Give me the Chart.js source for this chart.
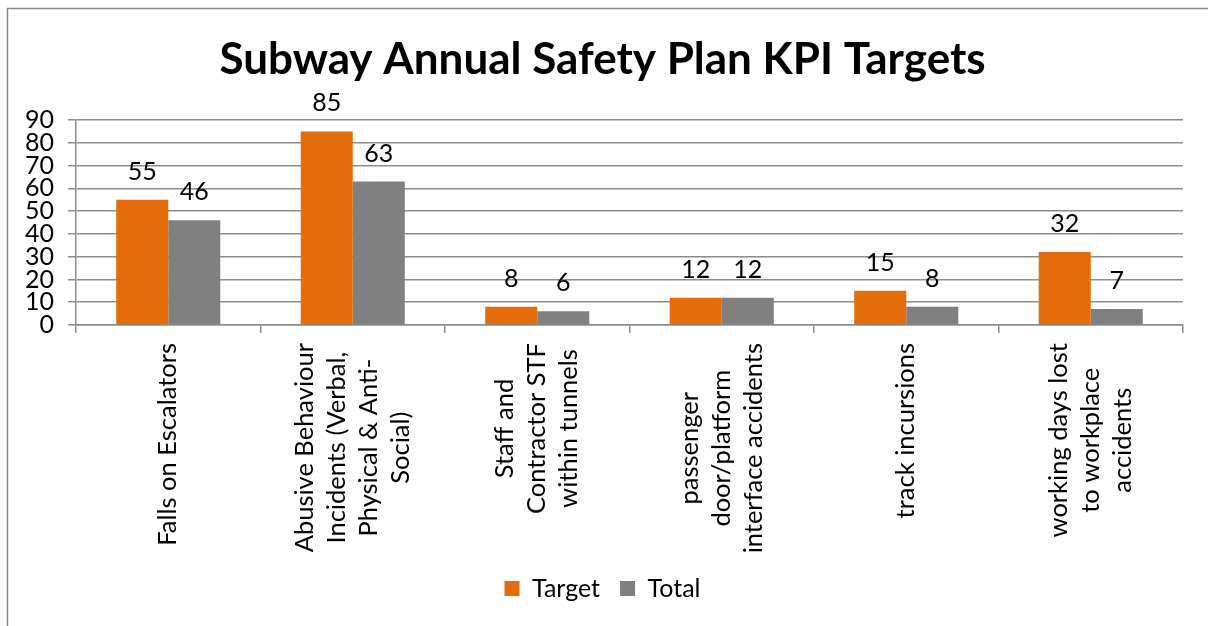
<!DOCTYPE html>
<html>
<head>
<meta charset="utf-8">
<script src="https://cdn.jsdelivr.net/npm/chart.js@4.4.1/dist/chart.umd.min.js"></script>
<style>
  html, body { margin: 0; padding: 0; background: #ffffff; }
  #wrap { position: relative; width: 1208px; height: 626px; }
</style>
</head>
<body>
<div id="wrap"><canvas id="chart" width="1208" height="626"></canvas></div>
<script>
  var CATEGORIES = [
    ["Falls on Escalators"],
    ["Abusive Behaviour", "Incidents (Verbal,", "Physical & Anti-", "Social)"],
    ["Staff and", "Contractor STF", "within tunnels"],
    ["passenger", "door/platform", "interface accidents"],
    ["track incursions"],
    ["working days lost", "to workplace", "accidents"]
  ];
  var TARGET = [55, 85, 8, 12, 15, 32];
  var TOTAL = [46, 63, 6, 12, 8, 7];
  var Y_TICKS = [0, 10, 20, 30, 40, 50, 60, 70, 80, 90];

  var FONT = "Lato, 'Liberation Sans', sans-serif";
  var GRID = "#8c8c8c";

  // frame line round the chart (only top and left edges are in view)
  var framePlugin = {
    id: "frame",
    beforeDraw: function (chart) {
      var ctx = chart.ctx;
      ctx.save();
      ctx.strokeStyle = "#8a8a8a";
      ctx.lineWidth = 1.5;
      ctx.strokeRect(7.5, 8.5, 1400, 800);
      ctx.restore();
    }
  };

  // rotated, centred multi-line category labels
  var categoryLabels = {
    id: "categoryLabels",
    afterDraw: function (chart) {
      var scale = chart.scales.x;
      var ctx = chart.ctx;
      var lineH = 32;
      ctx.save();
      ctx.font = "25.5px " + FONT;
      ctx.fillStyle = "#000000";
      ctx.textAlign = "center";
      ctx.textBaseline = "middle";
      CATEGORIES.forEach(function (lines, i) {
        var x = scale.getPixelForTick(i);
        var top = scale.top + 18;
        var maxW = 0;
        lines.forEach(function (l) { maxW = Math.max(maxW, ctx.measureText(l).width); });
        ctx.save();
        ctx.translate(x, top);
        ctx.rotate(-Math.PI / 2);
        lines.forEach(function (l, j) {
          ctx.fillText(l, -maxW / 2, (j - (lines.length - 1) / 2) * lineH);
        });
        ctx.restore();
      });
      ctx.restore();
    }
  };

  // value labels above the bars
  var valueLabels = {
    id: "valueLabels",
    afterDatasetsDraw: function (chart) {
      var ctx = chart.ctx;
      ctx.save();
      ctx.font = "25px " + FONT;
      ctx.fillStyle = "#000000";
      ctx.textAlign = "center";
      ctx.textBaseline = "alphabetic";
      chart.data.datasets.forEach(function (ds, d) {
        chart.getDatasetMeta(d).data.forEach(function (bar, i) {
          ctx.fillText(String(ds.data[i]), bar.x, bar.y - 20);
        });
      });
      ctx.restore();
    }
  };

  new Chart(document.getElementById("chart"), {
    type: "bar",
    data: {
      labels: CATEGORIES.map(function (c) { return c.join(" "); }),
      datasets: [{
        label: "Target",
        data: TARGET,
        backgroundColor: "#e46c0a",
        borderWidth: 0
      }, {
        label: "Total",
        data: TOTAL,
        backgroundColor: "#808080",
        borderWidth: 0
      }]
    },
    options: {
      responsive: false,
      animation: false,
      devicePixelRatio: 1,
      layout: { padding: { left: 22, right: 25, top: 0, bottom: 15 } },
      datasets: { bar: { categoryPercentage: 0.564, barPercentage: 1 } },
      plugins: {
        title: {
          display: true,
          text: "Subway Annual Safety Plan KPI Targets",
          color: "#000000",
          font: { family: FONT, size: 44, weight: "bold", lineHeight: 1.2 },
          padding: { top: 33.6, bottom: 33.6 }
        },
        legend: {
          position: "bottom",
          labels: {
            color: "#000000",
            font: { family: FONT, size: 25 },
            boxWidth: 15,
            boxHeight: 15,
            padding: 20
          }
        },
        tooltip: { enabled: false }
      },
      scales: {
        x: {
          grid: { display: true, drawOnChartArea: false, color: GRID, lineWidth: 1.5, tickLength: 8, offset: true },
          border: { color: GRID, width: 1.5 },
          ticks: { display: false },
          afterFit: function (scale) { scale.height = 231; }
        },
        y: {
          min: 0,
          max: 90,
          afterBuildTicks: function (scale) {
            scale.ticks = Y_TICKS.map(function (v) { return { value: v }; });
          },
          grid: { color: GRID, lineWidth: 1.5, tickLength: 8 },
          border: { color: GRID, width: 1.5 },
          ticks: {
            color: "#000000",
            font: { family: FONT, size: 25 },
            padding: 14,
            autoSkip: false
          },
          afterFit: function (scale) { scale.width = 54; }
        }
      }
    },
    plugins: [framePlugin, categoryLabels, valueLabels]
  });
</script>
</body>
</html>
